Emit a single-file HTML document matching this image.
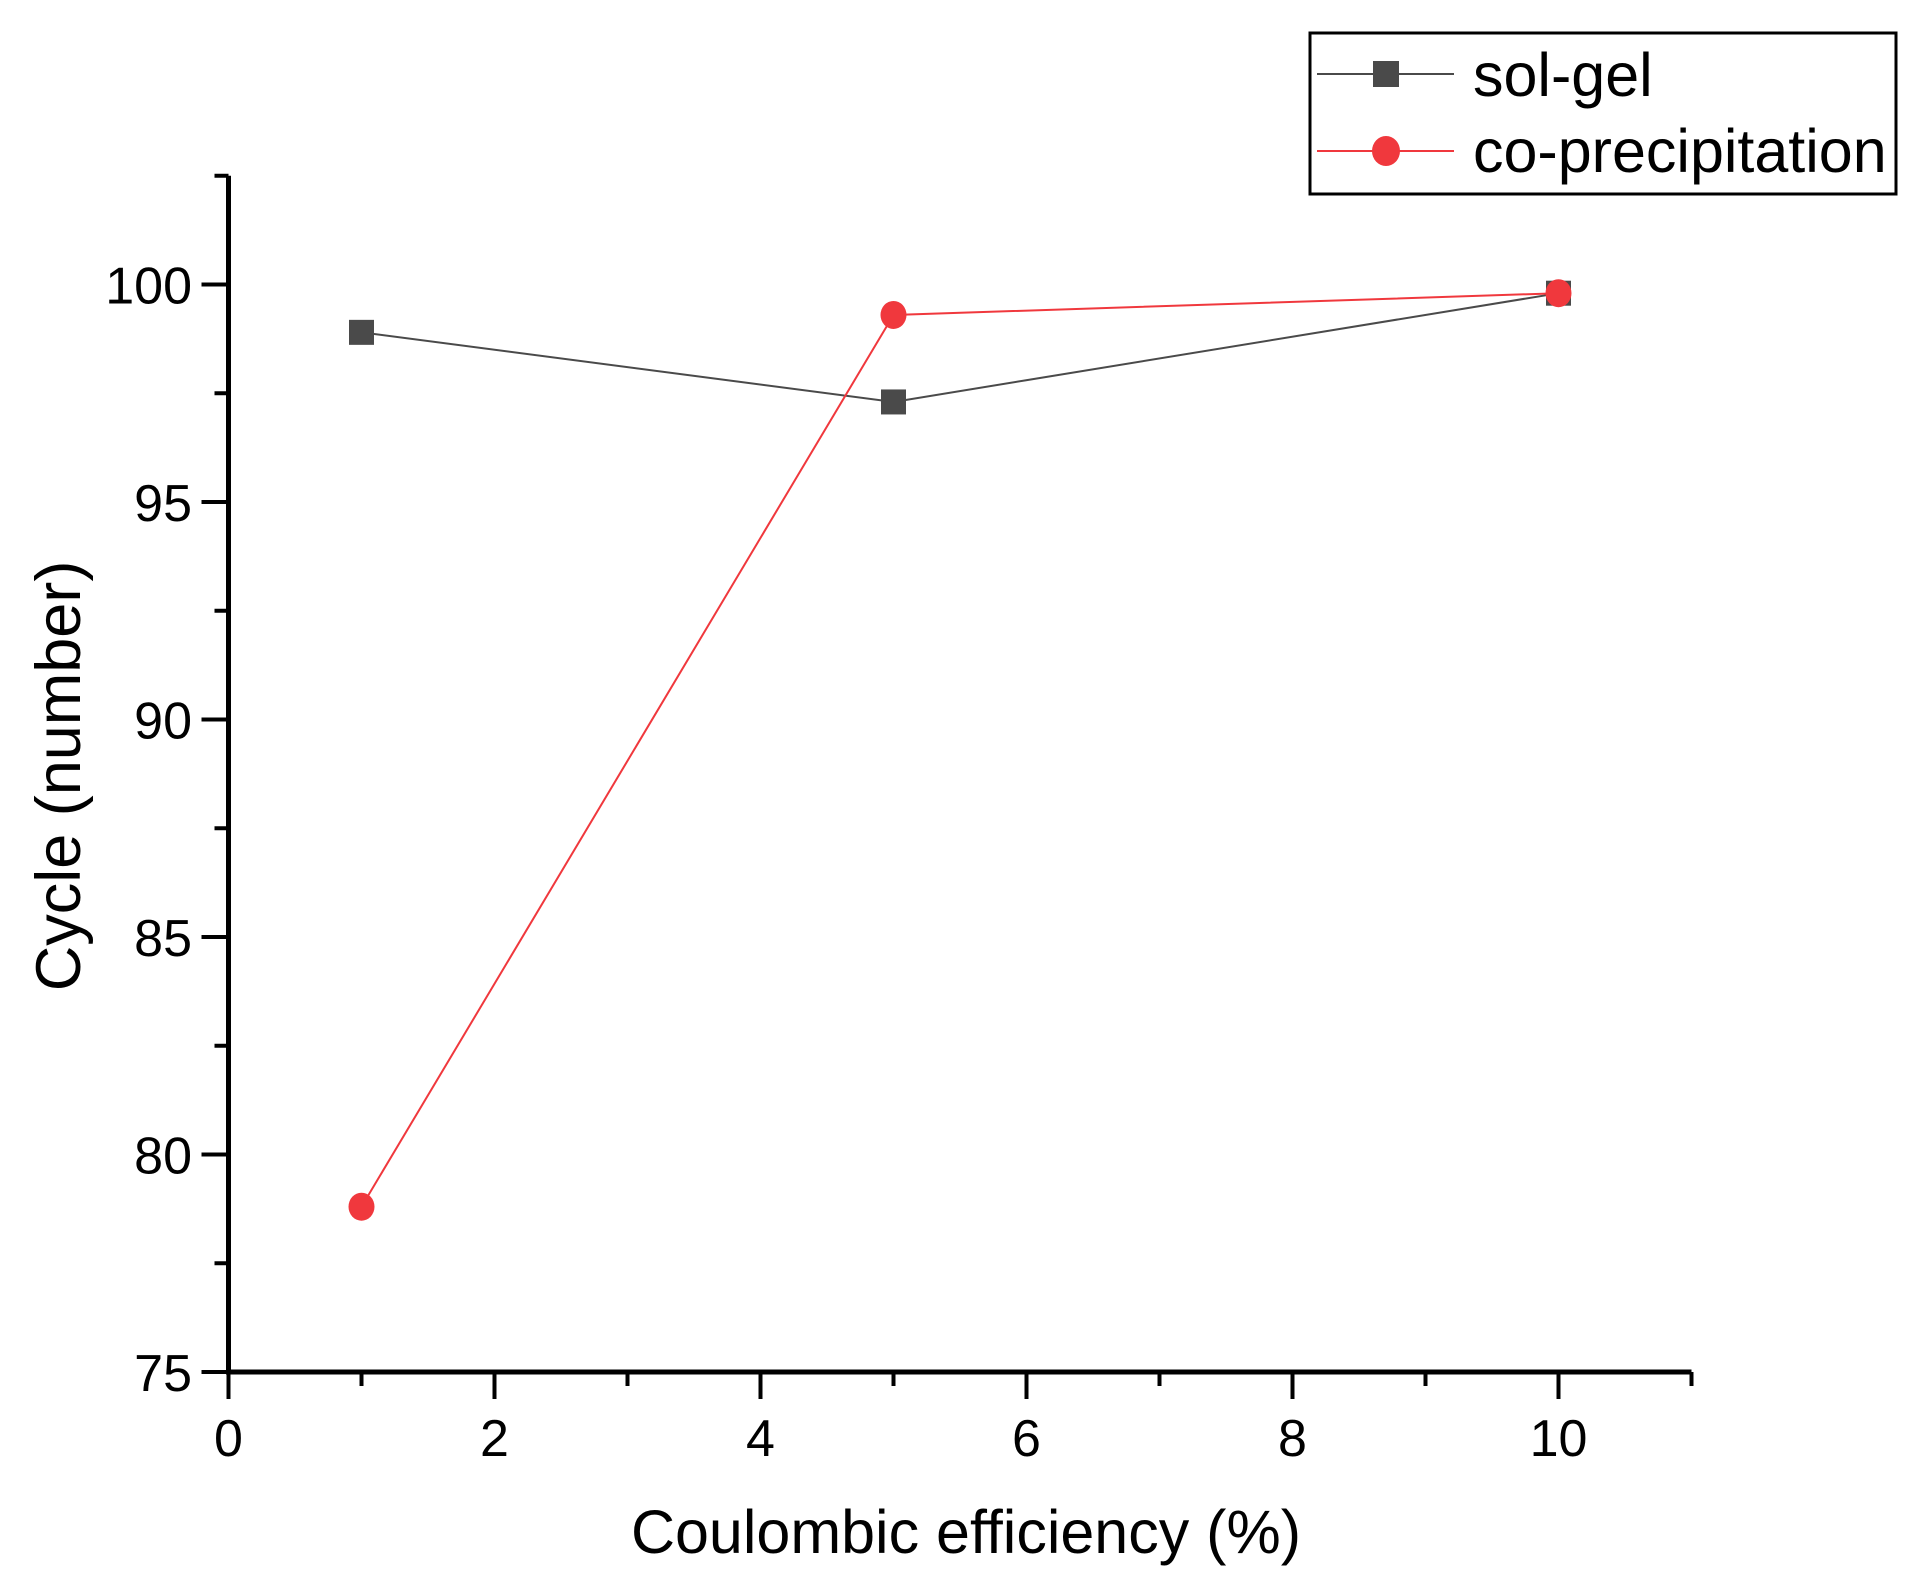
<!DOCTYPE html>
<html><head><meta charset="utf-8"><style>
html,body{margin:0;padding:0;background:#fff}
svg{display:block}
text{font-family:"Liberation Sans",Arial,sans-serif;fill:#000}
</style></head><body>
<svg id="chart" width="1931" height="1593" viewBox="0 0 1931 1593" xmlns="http://www.w3.org/2000/svg">
<g id="axes"></g>
<g id="series"></g>
<text x="966" y="1553" font-size="61" text-anchor="middle">Coulombic efficiency (%)</text>
<text transform="translate(80,776) rotate(-90)" font-size="63" text-anchor="middle">Cycle (number)</text>
<g>
<rect x="1310" y="33" width="586" height="161" fill="#fff" stroke="#000" stroke-width="3"/>
<g>
<line x1="1317" y1="74" x2="1454" y2="74" stroke="#4a4a4a" stroke-width="2"/>
<rect x="1373" y="61" width="26" height="26" fill="#4a4a4a"/>
<text x="1473" y="96" font-size="61">sol-gel</text>
</g>
<g>
<line x1="1317" y1="151" x2="1454" y2="151" stroke="#f0383d" stroke-width="2"/>
<ellipse cx="1386" cy="151" rx="14" ry="15" fill="#f0383d"/>
<text x="1473" y="172" font-size="61">co-precipitation</text>
</g>
</g>
<script>
const xTicks = [0, 2, 4, 6, 8, 10];
const xMinor = [1, 3, 5, 7, 9, 11];
const yTicks = [75, 80, 85, 90, 95, 100];
const yMinor = [77.5, 82.5, 87.5, 92.5, 97.5, 102.5];
const xValues = [1, 5, 10];
const solGel = [98.9, 97.3, 99.8];
const coPrecip = [78.8, 99.3, 99.8];

const X0 = 228.5, XS = 133, Y0 = 1372, YS = 43.5;
const xs = v => X0 + (v - 0) * XS;
const ys = v => Y0 - (v - 75) * YS;
const NS = 'http://www.w3.org/2000/svg';
function mk(tag, attrs, parent) {
  const e = document.createElementNS(NS, tag);
  for (const k in attrs) e.setAttribute(k, attrs[k]);
  parent.appendChild(e);
  return e;
}
const axes = document.getElementById('axes');
const xEnd = xs(11), yTop = ys(102.5);
let a = mk('line', {x1: X0, y1: Y0, x2: xEnd, y2: Y0, stroke: '#000', 'stroke-width': 5}, axes);


a = mk('line', {x1: X0, y1: Y0 + 2.5, x2: X0, y2: yTop, stroke: '#000', 'stroke-width': 5}, axes);


xTicks.forEach(v => {
  const t = mk('line', {x1: xs(v), y1: Y0, x2: xs(v), y2: Y0 + 27, stroke: '#000', 'stroke-width': 4}, axes);
  
  
  const l = mk('text', {x: xs(v), y: 1456, 'font-size': 52, 'text-anchor': 'middle'}, axes);
  l.textContent = v;
  
  
});
xMinor.forEach(v => {
  const t = mk('line', {x1: xs(v), y1: Y0, x2: xs(v), y2: Y0 + 14, stroke: '#000', 'stroke-width': 4}, axes);
  
  
});
yTicks.forEach(v => {
  const t = mk('line', {x1: X0 - 27, y1: ys(v), x2: X0, y2: ys(v), stroke: '#000', 'stroke-width': 4}, axes);
  
  
  const l = mk('text', {x: 192, y: ys(v) + 19, 'font-size': 52, 'text-anchor': 'end'}, axes);
  l.textContent = v;
  
  
});
yMinor.forEach(v => {
  const t = mk('line', {x1: X0 - 14, y1: ys(v), x2: X0, y2: ys(v), stroke: '#000', 'stroke-width': 4}, axes);
  
  
});
const series = document.getElementById('series');
function drawSeries(vals, color, kind, name) {
  const g = mk('g', {}, series);
  
  
  const pts = vals.map((v, i) => xs(xValues[i]) + ',' + ys(v)).join(' ');
  const pl = mk('polyline', {points: pts, fill: 'none', stroke: color, 'stroke-width': 2}, g);
  
  
  vals.forEach((v, i) => {
    let m;
    if (kind === 'square') m = mk('rect', {x: xs(xValues[i]) - 12.5, y: ys(v) - 12.5, width: 25, height: 25, fill: color}, g);
    else m = mk('ellipse', {cx: xs(xValues[i]), cy: ys(v), rx: 13, ry: 14, fill: color}, g);
    
    
  });
}
drawSeries(solGel, '#4a4a4a', 'square', 'sol-gel');
drawSeries(coPrecip, '#f0383d', 'circle', 'co-precipitation');
</script>
</svg>
</body></html>
